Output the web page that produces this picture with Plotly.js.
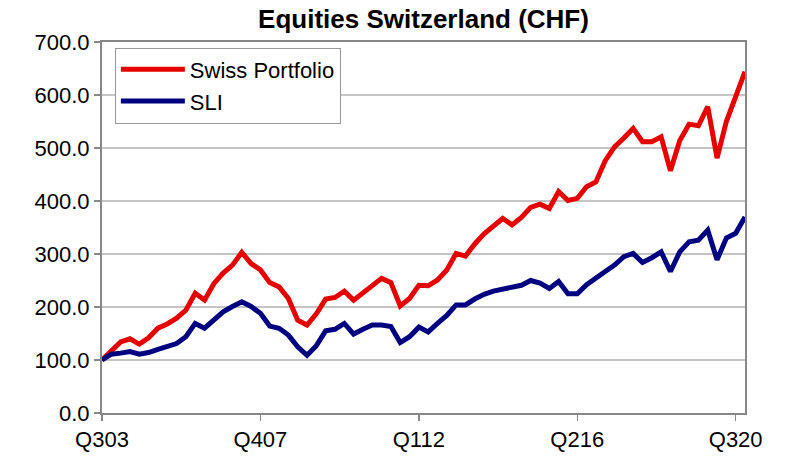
<!DOCTYPE html>
<html>
<head>
<meta charset="utf-8">
<script src="https://cdn.plot.ly/plotly-3.0.1.min.js"></script>
<style>html,body{margin:0;padding:0;background:#fff;}#chart{width:785px;height:458px;}</style>
</head>
<body>
<div id="chart"></div>
<script>
// Quarters Q303 .. Q420
var quarters = ["Q303","Q403",
  "Q104","Q204","Q304","Q404",
  "Q105","Q205","Q305","Q405",
  "Q106","Q206","Q306","Q406",
  "Q107","Q207","Q307","Q407",
  "Q108","Q208","Q308","Q408",
  "Q109","Q209","Q309","Q409",
  "Q110","Q210","Q310","Q410",
  "Q111","Q211","Q311","Q411",
  "Q112","Q212","Q312","Q412",
  "Q113","Q213","Q313","Q413",
  "Q114","Q214","Q314","Q414",
  "Q115","Q215","Q315","Q415",
  "Q116","Q216","Q316","Q416",
  "Q117","Q217","Q317","Q417",
  "Q118","Q218","Q318","Q418",
  "Q119","Q219","Q319","Q419",
  "Q120","Q220","Q320","Q420"];

var swissPortfolio = [100,118,134,140,130,142,160,168,179,194,
  226,213,244,264,279,303,282,270,246,238,
  216,175,166,187,215,218,230,213,226,240,
  254,246,202,216,241,240,251,270,301,296,
  319,338,353,367,355,369,388,394,386,418,
  401,405,427,436,476,502,519,537,512,512,
  521,457,514,545,542,578,481,550,597,644];

var sli = [100,111,113,116,111,114,120,126,131,144,
  169,160,177,191,201,210,201,188,164,160,
  147,125,109,127,155,158,169,149,158,166,
  166,163,133,144,162,153,169,184,204,204,
  215,224,230,233,236,241,250,245,235,248,
  225,225,242,256,267,279,295,301,284,293,
  304,267,304,323,326,345,289,330,339,370];

var tickLabels = ["Q303","Q407","Q112","Q216","Q320"];
var seriesNames = ["Swiss Portfolio","SLI"];
var chartTitle = "Equities Switzerland (CHF)";

var font = "Liberation Sans, Arial, sans-serif";

var traces = [
  {x: quarters, y: swissPortfolio, name: seriesNames[0], type: "scatter", mode: "lines",
   line: {color: "#E60000", width: 5}},
  {x: quarters, y: sli, name: seriesNames[1], type: "scatter", mode: "lines",
   line: {color: "#000080", width: 5}}
];

var layout = {
  width: 785, height: 458,
  margin: {l: 102, r: 40, t: 42, b: 45},
  paper_bgcolor: "#fff", plot_bgcolor: "#fff",
  font: {family: font, color: "#000", size: 22},
  title: {text: "<b>" + chartTitle + "</b>", x: 0.5, xref: "paper", xanchor: "center",
          y: 0.958, yref: "container", yanchor: "middle",
          font: {family: font, size: 26, color: "#000"}},
  xaxis: {type: "category", range: [0, quarters.length - 1],
          tickmode: "array", tickvals: tickLabels, ticktext: tickLabels,
          ticks: "outside", ticklen: 6, tickwidth: 1.5, tickcolor: "#888",
          showline: true, linecolor: "#888", linewidth: 2, mirror: true,
          showgrid: false, zeroline: false,
          tickfont: {family: font, size: 22, color: "#000"}},
  yaxis: {range: [0, 700], dtick: 100, tick0: 0, tickformat: ".1f",
          ticks: "outside", ticklen: 6, tickwidth: 1.5, tickcolor: "#888",
          showline: true, linecolor: "#888", linewidth: 2, mirror: true,
          showgrid: true, gridcolor: "#C4C4C4", gridwidth: 2, zeroline: false,
          tickfont: {family: font, size: 22, color: "#000"}},
  showlegend: true,
  legend: {x: 0.02, y: 0.985, xanchor: "left", yanchor: "top",
           bordercolor: "#999", borderwidth: 1, bgcolor: "#fff",
           itemwidth: 64, font: {family: font, size: 22, color: "#000"},
           tracegroupgap: 0}
};

Plotly.newPlot("chart", traces, layout, {displayModeBar: false, staticPlot: true});
</script>
</body>
</html>
